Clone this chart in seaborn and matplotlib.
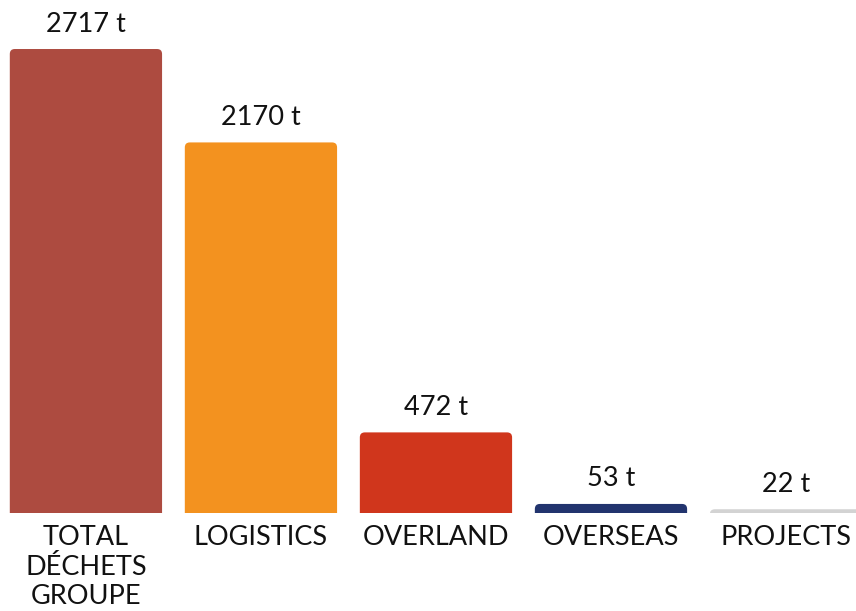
import matplotlib
matplotlib.use("Agg")
import matplotlib.pyplot as plt
from matplotlib.patches import FancyBboxPatch
import seaborn as sns
import pandas as pd

categories = ["TOTAL\nDÉCHETS\nGROUPE", "LOGISTICS", "OVERLAND", "OVERSEAS", "PROJECTS"]
tonnes = [2717, 2170, 472, 53, 22]
colors = ["#AD4B40", "#F3921F", "#D0361C", "#22346E", "#D3D3D3"]

sns.set_style("white")
plt.rcParams["font.family"] = ["Lato", "DejaVu Sans"]

df = pd.DataFrame({"cat": categories, "val": tonnes})

fig = plt.figure(figsize=(8.56, 6.11), dpi=100)
ax = fig.add_axes([0, 0.1604, 1, 0.8396])
sns.barplot(data=df, x="cat", y="val", hue="cat", palette=colors,
            saturation=1, width=0.87, legend=False, ax=ax)

ax.set_xlim(-0.491, 4.4)
ax.set_ylim(0, 3004)

# swap plain bars for ones with rounded top corners
px_x = 1 / 175.0
px_y = 3004 / 513.0
r = 5 * px_x
for p in list(ax.patches):
    x0, w, h = p.get_x(), p.get_width(), p.get_height()
    fc = p.get_facecolor()
    p.remove()
    ax.add_patch(FancyBboxPatch((x0, -6 * px_y), w, h + 6 * px_y,
                                boxstyle=f"round,pad=0,rounding_size={r}",
                                mutation_aspect=px_y / px_x,
                                fc=fc, ec="none", clip_on=True))

for i, v in enumerate(tonnes):
    ax.annotate(f"{v} t", (i, v), xytext=(0, 9), textcoords="offset points",
                ha="center", va="bottom", fontsize=19.5, color="#111111")

ax.set_xlabel("")
ax.set_ylabel("")
ax.set_yticks([])
ax.tick_params(axis="x", length=0, pad=9, labelsize=19.5, labelcolor="#111111")
plt.setp(ax.get_xticklabels(), linespacing=1.22)
sns.despine(left=True, bottom=True)

fig.savefig("out.png", dpi=100)
